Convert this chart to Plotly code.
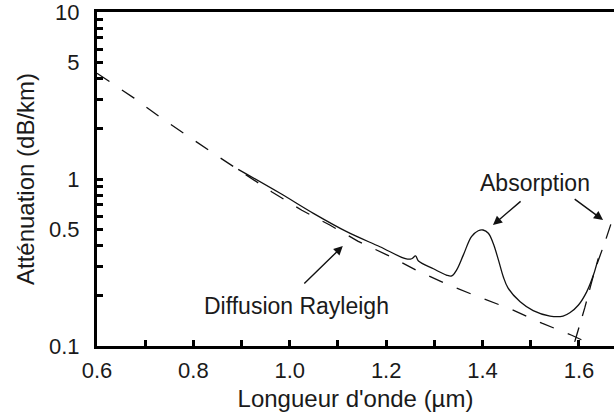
import math
import plotly.graph_objects as go

# Rayleigh scattering (dashed)
rayleigh_x = [0.6, 0.677, 0.733, 0.791, 0.847, 0.907, 0.963, 1.025, 1.083, 1.141,
              1.206, 1.266, 1.33, 1.395, 1.457, 1.523, 1.585, 1.62]
rayleigh_y = [4.3, 3.05, 2.32, 1.78, 1.39, 1.07, 0.836, 0.65, 0.53, 0.425,
              0.346, 0.281, 0.232, 0.195, 0.167, 0.137, 0.116, 0.104]

# Infrared absorption (dashed)
ir_x = [1.57, 1.592, 1.612, 1.633, 1.654, 1.675]
ir_y = [0.075, 0.108, 0.169, 0.285, 0.42, 0.64]

# Measured attenuation (solid)
meas_x = [0.893, 0.98, 1.049, 1.118, 1.187, 1.242, 1.253, 1.261, 1.267, 1.298,
          1.325, 1.336, 1.346, 1.36, 1.377, 1.391, 1.401, 1.412, 1.422, 1.433,
          1.443, 1.453, 1.478, 1.505, 1.54, 1.567, 1.581, 1.599, 1.616, 1.63, 1.64]
meas_y = [1.143, 0.821, 0.623, 0.484, 0.393, 0.332, 0.333, 0.346, 0.323, 0.29,
          0.266, 0.263, 0.285, 0.35, 0.452, 0.49, 0.495, 0.473, 0.412, 0.327,
          0.26, 0.222, 0.184, 0.163, 0.151, 0.151, 0.158, 0.176, 0.211, 0.266, 0.335]

x_tickvals = [0.6, 0.7, 0.8, 0.9, 1.0, 1.1, 1.2, 1.3, 1.4, 1.5, 1.6]
x_ticktext = ["0.6", "", "0.8", "", "1.0", "", "1.2", "", "1.4", "", "1.6"]
y_tickvals = [0.1, 0.2, 0.3, 0.4, 0.5, 0.6, 0.7, 0.8, 0.9,
              1, 2, 3, 4, 5, 6, 7, 8, 9, 10]
y_ticktext = ["0.1", "", "", "", "0.5", "", "", "", "",
              "1", "", "", "", "5", "", "", "", "", "10"]

# label positions (data units) and arrows (head x, head y, tail x, tail y)
labels = [("Absorption", 1.509, 0.946), ("Diffusion Rayleigh", 1.013, 0.174)]
arrows = [
    (1.4216, 0.530, 1.482, 0.748),
    (1.650, 0.568, 1.588, 0.77),
    (1.110, 0.397, 1.027, 0.232),
]

FONT = "Liberation Sans, Arial, sans-serif"
TXT = "#1a1a1a"
L = math.log10

fig = go.Figure()
fig.add_trace(go.Scatter(x=rayleigh_x, y=rayleigh_y, mode="lines",
                         line=dict(color="#111111", width=1.3, dash="15px,15px"),
                         showlegend=False, hoverinfo="skip"))
fig.add_trace(go.Scatter(x=ir_x, y=ir_y, mode="lines",
                         line=dict(color="#111111", width=1.3, dash="15px,12px"),
                         showlegend=False, hoverinfo="skip"))
fig.add_trace(go.Scatter(x=meas_x, y=meas_y, mode="lines", line_shape="spline",
                         line=dict(color="#111111", width=1.3),
                         showlegend=False, hoverinfo="skip"))

for text, lx, ly in labels:
    fig.add_annotation(x=lx, y=L(ly), xref="x", yref="y", yanchor="middle",
                       text=text, showarrow=False,
                       font=dict(family=FONT, size=23, color=TXT))
for hx, hy, tx, ty in arrows:
    fig.add_annotation(x=hx, y=L(hy), ax=tx, ay=L(ty), xref="x", yref="y",
                       axref="x", ayref="y", text="", showarrow=True,
                       arrowhead=2, arrowsize=1.3, arrowwidth=1.4,
                       arrowcolor="#111111")

fig.update_layout(
    width=614, height=420,
    margin=dict(l=97, r=0, t=12, b=74),
    paper_bgcolor="white", plot_bgcolor="white",
    font=dict(family=FONT, size=22, color=TXT),
    xaxis=dict(range=[0.6, 1.6727], showgrid=False, zeroline=False,
               showline=True, linecolor="black", linewidth=3, mirror=True,
               ticks="inside", ticklen=6, tickwidth=3, tickcolor="black",
               tickvals=x_tickvals, ticktext=x_ticktext, ticklabelstandoff=3,
               ticklabeloverflow="allow",
               tickfont=dict(family=FONT, size=22, color=TXT),
               automargin=False,
               title=dict(text="Longueur d'onde (µm)", standoff=8,
                          font=dict(family=FONT, size=24, color=TXT))),
    yaxis=dict(type="log", range=[-1, 1], showgrid=False, zeroline=False,
               showline=True, linecolor="black", linewidth=3,
               ticks="inside", ticklen=6, tickwidth=3, tickcolor="black",
               tickvals=y_tickvals, ticktext=y_ticktext, ticklabelstandoff=10,
               ticklabeloverflow="allow",
               tickfont=dict(family=FONT, size=22, color=TXT),
               automargin=False,
               title=dict(text="Atténuation (dB/km)", standoff=8,
                          font=dict(family=FONT, size=24, color=TXT))),
)

fig.write_html("out.html", config={"displayModeBar": False},
               post_script="document.body.style.margin='0';document.body.style.overflow='hidden';")
